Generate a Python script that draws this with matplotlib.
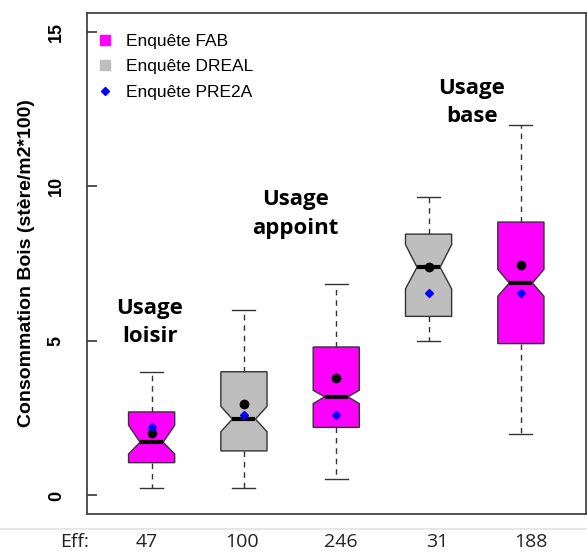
import matplotlib
matplotlib.use('Agg')
import matplotlib.pyplot as plt
from matplotlib.lines import Line2D

# Data (one box per usage / survey)
surveys = ['FAB', 'DREAL', 'FAB', 'DREAL', 'FAB']
whislo = [0.25, 0.25, 0.53, 4.99, 2.00]
q1 = [1.06, 1.44, 2.20, 5.79, 4.91]
med = [1.72, 2.47, 3.19, 7.38, 6.87]
q3 = [2.70, 4.00, 4.80, 8.45, 8.84]
whishi = [4.00, 6.00, 6.84, 9.66, 11.97]
cilo = [1.34, 2.06, 2.97, 6.68, 6.44]
cihi = [2.27, 2.88, 3.40, 8.11, 7.31]
means = [2.03, 2.97, 3.79, 7.40, 7.46]
pre2a = [2.22, 2.60, 2.59, 6.54, 6.54]
eff = [47, 100, 246, 31, 188]
usage_labels = ['Usage\nloisir', 'Usage\nappoint', 'Usage\nbase']
usage_pos = [(0.98, 5.6), (2.56, 9.1), (4.47, 12.7)]

colors = {'FAB': '#ff00ff', 'DREAL': '#bebebe'}

fig = plt.figure(figsize=(5.87, 5.53), dpi=100)
ax = fig.add_axes([87 / 587, 1 - 514 / 553, 498.5 / 587, 501 / 553])

stats = []
for i in range(len(med)):
    stats.append(dict(whislo=whislo[i], q1=q1[i], med=med[i], q3=q3[i],
                      whishi=whishi[i], cilo=cilo[i], cihi=cihi[i], fliers=[]))

pos = list(range(1, len(med) + 1))
bp = ax.bxp(stats, positions=pos, widths=0.5, shownotches=True, patch_artist=True,
            capwidths=0.25,
            boxprops=dict(edgecolor='#333333', linewidth=1.0),
            whiskerprops=dict(color='#333333', linewidth=1.0, linestyle=(0, (4, 3.5))),
            capprops=dict(color='#333333', linewidth=1.0),
            medianprops=dict(color='black', linewidth=3, solid_capstyle='butt'))
for patch, s in zip(bp['boxes'], surveys):
    patch.set_facecolor(colors[s])

ax.plot(pos, means, 'o', color='black', markersize=6, zorder=5)
ax.plot(pos, pre2a, 'D', color='#0000ff', markersize=4.5, zorder=6)

ax.set_xlim(0.3, 5.7)
ax.set_ylim(-0.6, 15.6)
ax.set_xticks([])
ax.set_yticks([0, 5, 10, 15])
ax.set_yticklabels(['0', '5', '10', '15'], rotation=90, va='center',
                   fontsize=13, fontweight='bold', family='Liberation Sans')
ax.tick_params(axis='y', direction='in', length=7, width=1.2, color='#333333', pad=16)
for sp in ax.spines.values():
    sp.set_color('#444444')
    sp.set_linewidth(1.3)

ax.set_ylabel('Consommation Bois (stère/m2*100)', fontsize=14, fontweight='bold',
              family='Liberation Sans', labelpad=9)

for txt, (x, y) in zip(usage_labels, usage_pos):
    ax.text(x, y, txt, ha='center', va='center', fontsize=16, fontweight='bold',
            family='Open Sans', linespacing=1.45)

handles = [Line2D([], [], marker='s', linestyle='none', color='#ff00ff', markersize=7),
           Line2D([], [], marker='s', linestyle='none', color='#bebebe', markersize=7),
           Line2D([], [], marker='D', linestyle='none', color='#0000ff', markersize=4.5)]
ax.legend(handles, ['Enquête FAB', 'Enquête DREAL', 'Enquête PRE2A'], loc='upper left',
          bbox_to_anchor=(-0.012, 0.99), frameon=False, handlelength=1.0, handletextpad=0.7,
          labelspacing=0.6, prop={'family': 'Liberation Sans', 'size': 12.5})

# Effectifs row below the plot
fig.add_artist(Line2D([0, 1], [1 - 529 / 553, 1 - 529 / 553], color='#e6e6e6', linewidth=1.5))
eff_x = [147, 242, 341, 437, 531]
fig.text(75 / 587, 1 - 542 / 553, 'Eff:', ha='center', va='center', fontsize=14,
         family='Open Sans', color='#222222')
for x, n in zip(eff_x, eff):
    fig.text(x / 587, 1 - 542 / 553, str(n), ha='center', va='center', fontsize=14,
             family='Open Sans', color='#222222')

fig.savefig('out.png', dpi=100)
